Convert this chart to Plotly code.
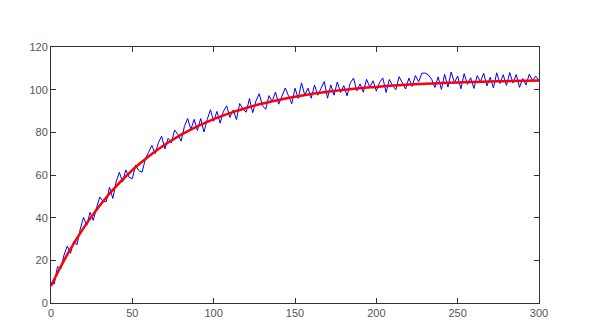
import plotly.graph_objects as go

# Noisy measurements (x every 2 units)
blue_x = list(range(0, 301, 2))
blue_y = [
    9.5, 8.9, 17.1, 16.0, 22.4, 26.7, 23.3, 28.9, 27.3, 34.7,
    40.1, 36.4, 42.5, 38.7, 44.7, 49.7, 47.6, 47.5, 54.3, 49.0,
    56.7, 61.3, 56.8, 62.4, 58.9, 58.3, 64.6, 62.0, 61.3, 67.5,
    70.7, 73.9, 70.0, 75.1, 78.2, 72.2, 77.2, 75.1, 81.1, 79.0,
    75.9, 82.7, 86.5, 81.3, 86.1, 80.8, 86.5, 80.2, 85.9, 90.6,
    85.2, 89.8, 84.3, 89.9, 92.4, 87.0, 90.5, 86.0, 93.5, 90.9,
    89.4, 95.8, 89.2, 94.7, 98.1, 92.5, 90.8, 97.2, 94.5, 98.9,
    93.2, 97.5, 100.8, 97.1, 93.4, 100.7, 95.9, 103.2, 97.5, 100.7,
    96.0, 102.2, 97.4, 100.6, 103.8, 96.0, 102.2, 97.4, 103.6, 98.7,
    101.9, 97.1, 103.2, 105.4, 99.5, 102.7, 98.8, 104.9, 101.1, 104.2,
    99.3, 103.4, 105.5, 98.7, 104.8, 101.9, 100.0, 106.1, 103.2, 100.3,
    105.4, 101.5, 106.6, 103.7, 107.7, 107.8, 106.9, 104.9, 101.0, 106.0,
    100.1, 107.2, 101.2, 108.3, 103.3, 106.4, 100.4, 107.5, 102.5, 105.6,
    100.6, 106.6, 103.7, 107.7, 101.8, 105.8, 100.8, 107.9, 102.9, 107.0,
    102.0, 108.0, 103.1, 107.1, 101.1, 105.2, 102.2, 107.2, 104.3, 106.3,
    104.3,
]

# Smooth fitted curve
red_x = [0, 5, 10, 15, 20, 25, 30, 35, 40, 45, 50, 55, 60, 65, 70, 75, 80,
         85, 90, 95, 100, 110, 120, 130, 140, 150, 160, 170, 180, 190, 200,
         210, 220, 230, 240, 250, 260, 270, 280, 290, 300]
red_y = [8.0, 15.6, 22.7, 29.1, 35.1, 40.6, 45.7, 50.4, 54.7, 58.6, 62.3,
         65.6, 68.7, 71.6, 74.2, 76.6, 78.9, 80.9, 82.8, 84.6, 86.2, 89.0,
         91.4, 93.5, 95.2, 96.7, 98.0, 99.0, 99.9, 100.7, 101.3, 101.9,
         102.4, 102.8, 103.1, 103.4, 103.6, 103.8, 104.0, 104.2, 104.3]

x_ticks = [0, 50, 100, 150, 200, 250, 300]
y_ticks = [0, 20, 40, 60, 80, 100, 120]

fig = go.Figure()
fig.add_trace(go.Scatter(x=blue_x, y=blue_y, mode="lines",
                         line=dict(color="#0000FF", width=1), showlegend=False))
fig.add_trace(go.Scatter(x=red_x, y=red_y, mode="lines",
                         line=dict(color="#FF0000", width=2.5, shape="spline"),
                         showlegend=False))

axis_common = dict(showgrid=False, zeroline=False, showline=True, linecolor="#333333",
                   linewidth=1, mirror="ticks", ticks="inside", ticklen=5,
                   tickcolor="#333333", tickfont=dict(family="Liberation Sans, Arial",
                                                      size=11, color="#555555"))
fig.update_xaxes(range=[0, 300], tickvals=x_ticks, **axis_common)
fig.update_yaxes(range=[0, 120], tickvals=y_ticks, **axis_common)

fig.update_layout(width=600, height=335, margin=dict(l=43, r=69, t=39, b=40),
                  paper_bgcolor="white", plot_bgcolor="white")

fig.write_html("out.html")
